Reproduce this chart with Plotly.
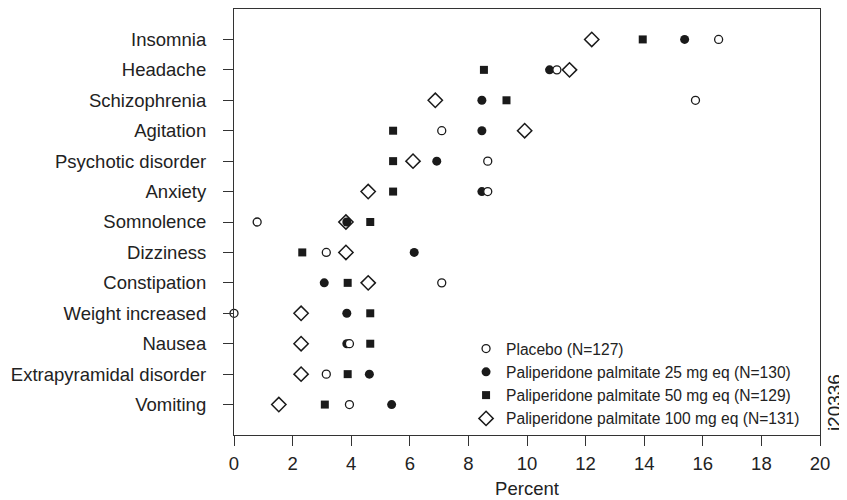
import plotly.graph_objects as go

categories = ["Insomnia", "Headache", "Schizophrenia", "Agitation", "Psychotic disorder",
              "Anxiety", "Somnolence", "Dizziness", "Constipation", "Weight increased",
              "Nausea", "Extrapyramidal disorder", "Vomiting"]

placebo = [16.54, 11.02, 15.75, 7.09, 8.66, 8.66, 0.79, 3.15, 7.09, 0.0, 3.94, 3.15, 3.94]
pp25 = [15.38, 10.77, 8.46, 8.46, 6.92, 8.46, 3.85, 6.15, 3.08, 3.85, 3.85, 4.62, 5.38]
pp50 = [13.95, 8.53, 9.30, 5.43, 5.43, 5.43, 4.65, 2.33, 3.88, 4.65, 4.65, 3.88, 3.10]
pp100 = [12.21, 11.45, 6.87, 9.92, 6.11, 4.58, 3.82, 3.82, 4.58, 2.29, 2.29, 2.29, 1.53]

series_names = ["Placebo (N=127)",
                "Paliperidone palmitate 25 mg eq (N=130)",
                "Paliperidone palmitate 50 mg eq (N=129)",
                "Paliperidone palmitate 100 mg eq (N=131)"]

x_ticks = [0, 2, 4, 6, 8, 10, 12, 14, 16, 18, 20]

n = len(categories)
ypos = [n - 1 - i for i in range(n)]

FONT = "Liberation Sans, Arial, Helvetica, sans-serif"
INK = "#1a1a1a"
TXT = "#222222"

fig = go.Figure()

# draw order: 100 mg, 50 mg, 25 mg, placebo (placebo on top)
fig.add_trace(go.Scatter(
    x=pp100, y=ypos, mode="markers", name=series_names[3], legendrank=4,
    marker=dict(symbol="diamond", size=11, color="white", line=dict(color=INK, width=1.5)),
    cliponaxis=False))
fig.add_trace(go.Scatter(
    x=pp50, y=ypos, mode="markers", name=series_names[2], legendrank=3,
    marker=dict(symbol="square", size=8, color=INK, line=dict(width=0)),
    cliponaxis=False))
fig.add_trace(go.Scatter(
    x=pp25, y=ypos, mode="markers", name=series_names[1], legendrank=2,
    marker=dict(symbol="circle", size=9, color=INK, line=dict(width=0)),
    cliponaxis=False))
fig.add_trace(go.Scatter(
    x=placebo, y=ypos, mode="markers", name=series_names[0], legendrank=1,
    marker=dict(symbol="circle", size=8, color="white", line=dict(color=INK, width=1.3)),
    cliponaxis=False))

fig.update_layout(
    width=839, height=492,
    margin=dict(l=226, r=27, t=1, b=65),
    paper_bgcolor="white", plot_bgcolor="white",
    font=dict(family=FONT, size=18.5, color=TXT),
    showlegend=True,
    legend=dict(x=0.396, y=0.242, xanchor="left", yanchor="top",
                bgcolor="rgba(0,0,0,0)", borderwidth=0,
                font=dict(family=FONT, size=15.6, color=TXT),
                itemsizing="trace", tracegroupgap=0),
    xaxis=dict(range=[0, 20], tickvals=x_ticks, ticktext=[str(v) for v in x_ticks],
               showgrid=False, zeroline=False, showline=True, linecolor="#333333",
               linewidth=1.2, mirror=True, ticks="outside", ticklen=10,
               tickcolor="#333333", tickwidth=1.2, ticklabelstandoff=2,
               tickfont=dict(size=18.5), automargin=False,
               title=dict(text="Percent", standoff=8, font=dict(size=18.5))),
    yaxis=dict(range=[-1, 13], tickvals=ypos, ticktext=categories,
               showgrid=False, zeroline=False, showline=True, linecolor="#333333",
               linewidth=1.2, mirror=True, ticks="outside", ticklen=10,
               tickcolor="#333333", tickwidth=1.2, ticklabelstandoff=13,
               tickfont=dict(size=18.5), automargin=False),
)

fig.add_annotation(text="i20336", xref="paper", yref="paper", x=1.024, y=0.075,
                   xanchor="center", yanchor="middle", textangle=-90, showarrow=False,
                   font=dict(family=FONT, size=19, color=TXT))

fig.write_html("out.html")
